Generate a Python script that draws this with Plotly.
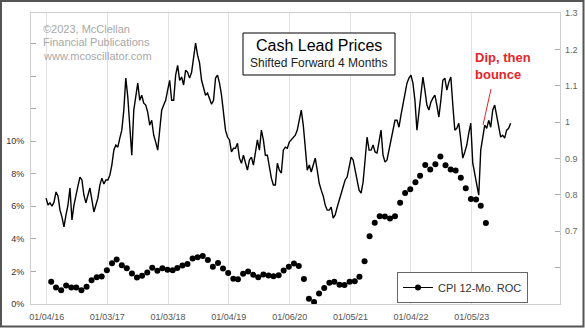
import pandas as pd
import plotly.graph_objects as go

# ---------------- data ----------------
# Cash lead price (shifted forward 4 months), sampled every 12 days from 2015-12-31
lead_start = "2015-12-31"
lead_step_days = 12
lead_price = [
    0.791, 0.772, 0.778, 0.769, 0.780, 0.808, 0.797, 0.758, 0.739, 0.712,
    0.745, 0.772, 0.819, 0.731, 0.772, 0.802, 0.824, 0.849, 0.841, 0.799,
    0.778, 0.799, 0.819, 0.786, 0.753, 0.772, 0.791, 0.827, 0.846, 0.830,
    0.841, 0.841, 0.854, 0.882, 0.923, 0.937, 0.931, 0.956, 0.978, 1.033,
    1.121, 1.069, 0.978, 0.909, 1.033, 1.074, 1.107, 1.060, 1.074, 1.052,
    1.047, 1.027, 0.992, 1.005, 0.964, 0.945, 0.923, 0.978, 1.033, 1.047,
    1.060, 1.088, 1.115, 1.060, 1.060, 1.129, 1.156, 1.115, 1.124, 1.102,
    1.143, 1.137, 1.121, 1.137, 1.176, 1.217, 1.184, 1.162, 1.115, 1.096,
    1.074, 1.080, 1.066, 1.049, 1.060, 1.121, 1.129, 1.107, 1.074, 1.019,
    0.978, 0.959, 0.951, 0.918, 0.928, 0.928, 0.942, 0.901, 0.887, 0.909,
    0.887, 0.868, 0.896, 0.904, 0.882, 0.923, 0.951, 0.923, 0.978, 0.951,
    0.909, 0.909, 0.876, 0.846, 0.827, 0.827, 0.887, 0.868, 0.860, 0.923,
    0.931, 0.928, 0.945, 0.951, 0.956, 0.964, 0.978, 1.011, 1.033, 0.992,
    0.923, 0.868, 0.882, 0.863, 0.882, 0.901, 0.868, 0.832, 0.813, 0.797,
    0.772, 0.758, 0.758, 0.766, 0.736, 0.745, 0.766, 0.786, 0.805, 0.824,
    0.841, 0.849, 0.882, 0.904, 0.896, 0.868, 0.832, 0.813, 0.805, 0.835,
    0.896, 0.959, 0.923, 0.923, 0.937, 0.918, 0.915, 0.951, 0.978, 0.909,
    0.890, 0.896, 0.923, 0.951, 0.978, 1.005, 1.005, 0.986, 1.019, 1.047,
    1.074, 1.107, 1.121, 1.129, 1.107, 1.060, 0.978, 1.033, 1.080, 1.124,
    1.088, 1.047, 1.033, 1.055, 1.066, 1.074, 1.047, 1.014, 1.060, 1.115,
    1.121, 1.088, 1.110, 1.124, 1.047, 0.978, 0.983, 0.997, 0.951, 0.901,
    0.918, 0.937, 0.970, 0.997, 0.887, 0.854, 0.821, 0.799, 0.923, 0.964,
    0.992, 0.983, 1.005, 0.986, 1.033, 1.047, 1.014, 0.992, 0.959, 0.964,
    0.956, 0.978, 0.983, 0.997,
]

# CPI 12-month rate of change (%), monthly Jan 2016 .. Mar 2023
cpi_start = "2016-01-01"
cpi_roc = [
    1.37, 1.02, 0.85, 1.13, 1.02, 1.01, 0.84, 1.06, 1.46, 1.64, 1.69, 2.07,
    2.50, 2.74, 2.38, 2.20, 1.87, 1.63, 1.73, 1.94, 2.23, 2.04, 2.20, 2.11,
    2.07, 2.21, 2.36, 2.46, 2.80, 2.87, 2.95, 2.70, 2.28, 2.52, 2.18, 1.91,
    1.55, 1.52, 1.86, 2.00, 1.79, 1.65, 1.81, 1.75, 1.71, 1.76, 2.05, 2.29,
    2.49, 2.33, 1.54, 0.33, 0.12, 0.65, 0.99, 1.31, 1.37, 1.18, 1.17, 1.36,
    1.40, 1.68, 2.62, 4.16, 4.99, 5.39, 5.37, 5.25, 5.39, 6.22, 6.81, 7.04,
    7.48, 7.87, 8.54, 8.26, 8.58, 9.06, 8.52, 8.26, 8.20, 7.75, 7.11, 6.45,
    6.41, 6.04, 4.98,
]

x_tick_dates = ["2016-01-04", "2017-01-03", "2018-01-03", "2019-01-04",
                "2020-01-06", "2021-01-05", "2022-01-04", "2023-01-05"]
x_tick_labels = ["01/04/16", "01/03/17", "01/03/18", "01/04/19",
                 "01/06/20", "01/05/21", "01/04/22", "01/05/23"]
left_tick_vals = [0, 2, 4, 6, 8, 10, 12, 14, 16]
left_tick_text = ["0%", "2%", "4%", "6%", "8%", "10%", "", "", ""]
right_tick_vals = [0.6, 0.7, 0.8, 0.9, 1.0, 1.1, 1.2, 1.3]
right_tick_text = ["", "0.7", "0.8", "0.9", "1", "1.1", "1.2", "1.3"]

# ---------------- figure ----------------
lead_dates = pd.date_range(lead_start, periods=len(lead_price), freq=f"{lead_step_days}D")
cpi_dates = pd.date_range(cpi_start, periods=len(cpi_roc), freq="MS") + pd.offsets.MonthEnd(0)

FONT = "Liberation Sans, Arial, sans-serif"

fig = go.Figure()
fig.add_trace(go.Scatter(
    x=cpi_dates, y=cpi_roc, mode="markers", yaxis="y",
    marker=dict(color="black", size=6), showlegend=False, name="CPI 12-Mo. ROC"))
fig.add_trace(go.Scatter(
    x=[None], y=[None], mode="lines+markers", yaxis="y",
    line=dict(color="black", width=1), marker=dict(color="black", size=6),
    name="CPI 12-Mo. ROC", showlegend=True))
fig.add_trace(go.Scatter(
    x=lead_dates, y=lead_price, mode="lines", yaxis="y2",
    line=dict(color="black", width=1.4), showlegend=False, name="Cash Lead"))

W, H = 585, 328
L, R, T, B = 31, 25, 13, 24
pw, ph = W - L - R, H - T - B


def px(xp):
    return (xp - L) / pw


def py(yp):
    return (H - B - yp) / ph


fig.update_layout(
    width=W, height=H,
    margin=dict(l=L, r=R, t=T, b=B, pad=0, autoexpand=False),
    paper_bgcolor="white", plot_bgcolor="white",
    font=dict(family=FONT, size=9, color="#444"),
    xaxis=dict(
        type="date", range=["2015-10-01 12:00", "2024-06-19"],
        tickvals=x_tick_dates, ticktext=x_tick_labels,
        showgrid=True, gridcolor="#e2e2e2", gridwidth=1,
        showline=True, linecolor="#cfcfcf", linewidth=1, mirror=True,
        ticks="", tickfont=dict(size=9, color="#555"), ticklabelstandoff=4,
        zeroline=False,
    ),
    yaxis=dict(
        range=[0, 17.87], tickvals=left_tick_vals, ticktext=left_tick_text,
        showgrid=False, zeroline=False,
        showline=True, linecolor="#cfcfcf", linewidth=1, mirror=True,
        ticks="inside", ticklen=5, tickcolor="#aaa",
        tickfont=dict(size=9, color="#333"), ticklabelstandoff=4,
    ),
    yaxis2=dict(
        range=[0.5, 1.3], overlaying="y", side="right",
        tickvals=right_tick_vals, ticktext=right_tick_text,
        showgrid=False, zeroline=False, showline=False,
        ticks="inside", ticklen=5, tickcolor="#aaa",
        tickfont=dict(size=9, color="#666"), ticklabelstandoff=4,
    ),
    legend=dict(
        x=px(528), y=py(272), xanchor="right", yanchor="top",
        bordercolor="#666", borderwidth=1, bgcolor="white",
        font=dict(size=11, color="#333"), itemwidth=30,
    ),
    shapes=[
        # outer frame of the picture
        dict(type="rect", xref="paper", yref="paper",
             x0=px(1), x1=px(583.5), y0=py(326.5), y1=py(1),
             line=dict(color="#555", width=2), layer="above"),
        # title box
        dict(type="rect", xref="paper", yref="paper",
             x0=px(243), x1=px(395), y0=py(75), y1=py(33),
             line=dict(color="black", width=1), fillcolor="white", layer="above"),
        # pointer for annotation
        dict(type="line", xref="paper", yref="paper",
             x0=px(491), y0=py(89), x1=px(483), y1=py(125),
             line=dict(color="#e3262b", width=1)),
    ],
    annotations=[
        dict(text="Cash Lead Prices", xref="paper", yref="paper",
             x=px(319), y=py(45), showarrow=False, xanchor="center", yanchor="middle",
             font=dict(size=16, color="black", family=FONT)),
        dict(text="Shifted Forward 4 Months", xref="paper", yref="paper",
             x=px(318), y=py(63), showarrow=False, xanchor="center", yanchor="middle",
             font=dict(size=12, color="#222", family=FONT)),
        dict(text="©2023, McClellan", xref="paper", yref="paper",
             x=px(41), y=py(29), showarrow=False, xanchor="left", yanchor="middle",
             font=dict(size=11, color="#a8a8a8", family=FONT)),
        dict(text="Financial Publications", xref="paper", yref="paper",
             x=px(41), y=py(42.5), showarrow=False, xanchor="left", yanchor="middle",
             font=dict(size=11, color="#a8a8a8", family=FONT)),
        dict(text="www.mcoscillator.com", xref="paper", yref="paper",
             x=px(41), y=py(56), showarrow=False, xanchor="left", yanchor="middle",
             font=dict(size=11, color="#a8a8a8", family=FONT)),
        dict(text="<b>Dip, then</b>", xref="paper", yref="paper",
             x=px(473), y=py(57), showarrow=False, xanchor="left", yanchor="middle",
             font=dict(size=13, color="#e3262b", family=FONT)),
        dict(text="<b>bounce</b>", xref="paper", yref="paper",
             x=px(473), y=py(74), showarrow=False, xanchor="left", yanchor="middle",
             font=dict(size=13, color="#e3262b", family=FONT)),
    ],
)

fig.write_html("out.html")
